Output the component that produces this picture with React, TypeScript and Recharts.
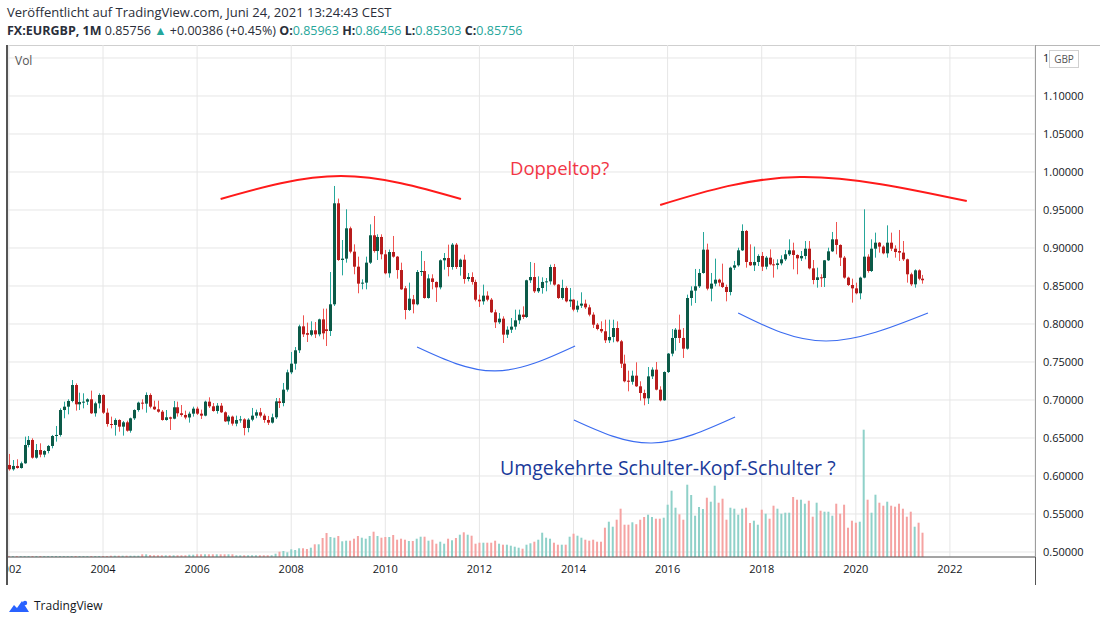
import { Bar, CartesianGrid, ComposedChart, Line, XAxis, YAxis } from "recharts"

// EURGBP monthly candles, Jan 2002 .. Jun 2021
const opens = [
  0.6145, 0.6088, 0.6132, 0.6105, 0.6167, 0.6408, 0.6474, 0.6241, 0.6342, 0.6281, 0.6329, 0.6395,
  0.6526, 0.6540, 0.6868, 0.6912, 0.6987, 0.7197, 0.6943, 0.6974, 0.6978, 0.7009, 0.6825, 0.6956,
  0.7066, 0.6833, 0.6684, 0.6671, 0.6737, 0.6649, 0.6706, 0.6596, 0.6759, 0.6868, 0.6965, 0.6952,
  0.7066, 0.6912, 0.6877, 0.6846, 0.6737, 0.6772, 0.6754, 0.6904, 0.6825, 0.6803, 0.6770, 0.6820,
  0.6886, 0.6820, 0.6794, 0.6978, 0.6917, 0.6855, 0.6925, 0.6838, 0.6719, 0.6781, 0.6689, 0.6737,
  0.6745, 0.6632, 0.6741, 0.6794, 0.6838, 0.6794, 0.6737, 0.6702, 0.6772, 0.6982, 0.6960, 0.7136,
  0.7364, 0.7478, 0.7654, 0.7969, 0.7880, 0.7858, 0.7917, 0.7864, 0.8061, 0.7930, 0.7908, 0.8259,
  0.9588, 0.8842, 0.8860, 0.9259, 0.8952, 0.8754, 0.8531, 0.8544, 0.8807, 0.9167, 0.8960, 0.9145,
  0.8917, 0.8667, 0.8947, 0.8886, 0.8710, 0.8470, 0.8184, 0.8325, 0.8259, 0.8684, 0.8697, 0.8342,
  0.8600, 0.8553, 0.8482, 0.8838, 0.8868, 0.8750, 0.9044, 0.8750, 0.8846, 0.8592, 0.8618, 0.8553,
  0.8320, 0.8298, 0.8373, 0.8320, 0.8154, 0.8022, 0.8070, 0.7860, 0.7925, 0.7965, 0.8048, 0.8123,
  0.8092, 0.8575, 0.8618, 0.8430, 0.8474, 0.8553, 0.8561, 0.8750, 0.8518, 0.8342, 0.8474, 0.8298,
  0.8320, 0.8189, 0.8241, 0.8268, 0.8219, 0.8123, 0.7991, 0.7934, 0.7904, 0.7785, 0.7829, 0.7947,
  0.7772, 0.7478, 0.7254, 0.7240, 0.7320, 0.7180, 0.7092, 0.7022, 0.7311, 0.7399, 0.7136, 0.6996,
  0.7368, 0.7610, 0.7816, 0.7925, 0.7816, 0.7675, 0.8342, 0.8439, 0.8496, 0.8671, 0.8978, 0.8465,
  0.8531, 0.8583, 0.8544, 0.8487, 0.8421, 0.8741, 0.8772, 0.8969, 0.9224, 0.8816, 0.8772, 0.8816,
  0.8895, 0.8754, 0.8873, 0.8785, 0.8776, 0.8798, 0.8851, 0.8917, 0.8969, 0.8908, 0.8864, 0.8895,
  0.8991, 0.8732, 0.8579, 0.8614, 0.8605, 0.8838, 0.8956, 0.9114, 0.9040, 0.8873, 0.8610, 0.8513,
  0.8469, 0.8404, 0.8610, 0.8886, 0.8697, 0.8991, 0.9070, 0.9018, 0.8930, 0.9070, 0.8991, 0.8960,
  0.8939, 0.8851, 0.8654, 0.8522, 0.8706, 0.85963,
]

const highs = [
  0.6290, 0.6210, 0.6220, 0.6189, 0.6518, 0.6526, 0.6496, 0.6421, 0.6430, 0.6340, 0.6408, 0.6540,
  0.6658, 0.6890, 0.6978, 0.7009, 0.7263, 0.7219, 0.7096, 0.7088, 0.7022, 0.7123, 0.6978, 0.7088,
  0.7075, 0.6890, 0.6781, 0.6759, 0.6746, 0.6724, 0.6728, 0.6768, 0.6877, 0.6978, 0.7009, 0.7100,
  0.7088, 0.6991, 0.6991, 0.6868, 0.6868, 0.6781, 0.6987, 0.6978, 0.6934, 0.6860, 0.6846, 0.6912,
  0.6912, 0.6873, 0.6991, 0.7035, 0.6960, 0.6960, 0.6960, 0.6850, 0.6800, 0.6794, 0.6794, 0.6790,
  0.6760, 0.6760, 0.6895, 0.6873, 0.6895, 0.6820, 0.6790, 0.6820, 0.7026, 0.7026, 0.7224, 0.7399,
  0.7632, 0.7697, 0.7991, 0.8114, 0.8018, 0.8035, 0.8026, 0.8070, 0.8202, 0.8202, 0.8684, 0.9816,
  0.9650, 0.9105, 0.9509, 0.9281, 0.9048, 0.8886, 0.8588, 0.8886, 0.9311, 0.9421, 0.9180, 0.9180,
  0.8974, 0.8980, 0.9158, 0.8895, 0.8807, 0.8500, 0.8544, 0.8382, 0.8710, 0.8960, 0.8829, 0.8654,
  0.8654, 0.8560, 0.8850, 0.8934, 0.9044, 0.9066, 0.9066, 0.8860, 0.8912, 0.8671, 0.8680, 0.8583,
  0.8386, 0.8518, 0.8430, 0.8342, 0.8189, 0.8145, 0.8101, 0.7969, 0.8079, 0.8189, 0.8189, 0.8232,
  0.8583, 0.8816, 0.8803, 0.8627, 0.8614, 0.8605, 0.8781, 0.8790, 0.8526, 0.8583, 0.8496, 0.8474,
  0.8329, 0.8307, 0.8417, 0.8320, 0.8254, 0.8154, 0.8013, 0.8035, 0.8057, 0.8057, 0.8057, 0.8035,
  0.7790, 0.7596, 0.7386, 0.7386, 0.7496, 0.7246, 0.7136, 0.7434, 0.7430, 0.7500, 0.7180, 0.7377,
  0.7618, 0.7934, 0.7947, 0.8123, 0.7947, 0.8386, 0.8496, 0.8724, 0.8724, 0.9210, 0.9057, 0.8671,
  0.8860, 0.8596, 0.8794, 0.8518, 0.8754, 0.8830, 0.9004, 0.9311, 0.9237, 0.9048, 0.9018, 0.8917,
  0.8947, 0.8895, 0.8982, 0.8851, 0.8851, 0.8904, 0.8974, 0.9114, 0.9070, 0.8917, 0.8960, 0.9092,
  0.9092, 0.8842, 0.8741, 0.8654, 0.8842, 0.9004, 0.9211, 0.9342, 0.9048, 0.8895, 0.8623, 0.8596,
  0.8544, 0.8623, 0.9509, 0.8917, 0.9114, 0.9202, 0.9079, 0.9035, 0.9298, 0.9202, 0.9035, 0.9237,
  0.9092, 0.8860, 0.8675, 0.8719, 0.8719, 0.86456,
]

const lows = [
  0.6070, 0.6070, 0.6097, 0.6097, 0.6160, 0.6377, 0.6228, 0.6228, 0.6246, 0.6246, 0.6298, 0.6364,
  0.6452, 0.6518, 0.6759, 0.6811, 0.6969, 0.6860, 0.6868, 0.6890, 0.6934, 0.6816, 0.6781, 0.6890,
  0.6816, 0.6649, 0.6627, 0.6531, 0.6583, 0.6531, 0.6583, 0.6570, 0.6737, 0.6846, 0.6877, 0.6833,
  0.6890, 0.6868, 0.6833, 0.6728, 0.6728, 0.6605, 0.6746, 0.6781, 0.6781, 0.6746, 0.6702, 0.6781,
  0.6803, 0.6750, 0.6785, 0.6895, 0.6846, 0.6820, 0.6829, 0.6710, 0.6675, 0.6662, 0.6654, 0.6700,
  0.6535, 0.6575, 0.6720, 0.6760, 0.6770, 0.6700, 0.6671, 0.6690, 0.6750, 0.6895, 0.6917, 0.7110,
  0.7340, 0.7399, 0.7618, 0.7829, 0.7763, 0.7838, 0.7816, 0.7838, 0.7798, 0.7710, 0.7842, 0.8237,
  0.8830, 0.8640, 0.8807, 0.8930, 0.8654, 0.8404, 0.8456, 0.8456, 0.8790, 0.8939, 0.8842, 0.8851,
  0.8654, 0.8610, 0.8873, 0.8596, 0.8448, 0.8061, 0.8171, 0.8140, 0.8246, 0.8632, 0.8333, 0.8333,
  0.8456, 0.8290, 0.8456, 0.8715, 0.8627, 0.8715, 0.8724, 0.8636, 0.8530, 0.8561, 0.8518, 0.8298,
  0.8224, 0.8254, 0.8298, 0.8145, 0.7947, 0.8000, 0.7750, 0.7816, 0.7882, 0.7925, 0.8000, 0.8066,
  0.8079, 0.8540, 0.8408, 0.8408, 0.8399, 0.8430, 0.8518, 0.8504, 0.8329, 0.8320, 0.8285, 0.8224,
  0.8167, 0.8154, 0.8211, 0.8197, 0.8101, 0.7947, 0.7917, 0.7882, 0.7750, 0.7750, 0.7759, 0.7759,
  0.7421, 0.7232, 0.7114, 0.7202, 0.7171, 0.6991, 0.6930, 0.6947, 0.7276, 0.7127, 0.6982, 0.6990,
  0.7355, 0.7575, 0.7649, 0.7750, 0.7553, 0.7662, 0.8241, 0.8276, 0.8474, 0.8662, 0.8443, 0.8298,
  0.8496, 0.8496, 0.8474, 0.8298, 0.8377, 0.8711, 0.8754, 0.8960, 0.8741, 0.8763, 0.8697, 0.8763,
  0.8697, 0.8719, 0.8772, 0.8610, 0.8719, 0.8772, 0.8829, 0.8895, 0.8719, 0.8654, 0.8829, 0.8851,
  0.8719, 0.8522, 0.8478, 0.8487, 0.8487, 0.8829, 0.8947, 0.8917, 0.8763, 0.8596, 0.8500, 0.8281,
  0.8390, 0.8325, 0.8601, 0.8675, 0.8684, 0.8873, 0.8939, 0.8917, 0.8873, 0.8960, 0.8873, 0.8829,
  0.8829, 0.8544, 0.8500, 0.8478, 0.8575, 0.85303,
]

const closes = [
  0.6088, 0.6132, 0.6105, 0.6167, 0.6408, 0.6474, 0.6241, 0.6342, 0.6281, 0.6329, 0.6395, 0.6526,
  0.6540, 0.6868, 0.6912, 0.6987, 0.7197, 0.6943, 0.6974, 0.6978, 0.7009, 0.6825, 0.6956, 0.7066,
  0.6833, 0.6684, 0.6671, 0.6737, 0.6649, 0.6706, 0.6596, 0.6759, 0.6868, 0.6965, 0.6952, 0.7066,
  0.6912, 0.6877, 0.6846, 0.6737, 0.6772, 0.6754, 0.6904, 0.6825, 0.6803, 0.6770, 0.6820, 0.6886,
  0.6820, 0.6794, 0.6978, 0.6917, 0.6855, 0.6925, 0.6838, 0.6719, 0.6781, 0.6689, 0.6737, 0.6745,
  0.6632, 0.6741, 0.6794, 0.6838, 0.6794, 0.6737, 0.6702, 0.6772, 0.6982, 0.6960, 0.7136, 0.7364,
  0.7478, 0.7654, 0.7969, 0.7864, 0.7858, 0.7917, 0.7864, 0.8061, 0.7877, 0.7908, 0.8259, 0.9588,
  0.8842, 0.8860, 0.9259, 0.8952, 0.8754, 0.8531, 0.8544, 0.8807, 0.9167, 0.8960, 0.9145, 0.8917,
  0.8667, 0.8947, 0.8886, 0.8710, 0.8456, 0.8184, 0.8333, 0.8259, 0.8684, 0.8697, 0.8342, 0.8600,
  0.8553, 0.8482, 0.8838, 0.8868, 0.8750, 0.9044, 0.8750, 0.8846, 0.8592, 0.8618, 0.8553, 0.8320,
  0.8298, 0.8373, 0.8320, 0.8154, 0.8022, 0.8070, 0.7860, 0.7925, 0.7965, 0.8048, 0.8123, 0.8092,
  0.8575, 0.8618, 0.8430, 0.8474, 0.8553, 0.8561, 0.8750, 0.8518, 0.8342, 0.8474, 0.8298, 0.8320,
  0.8189, 0.8241, 0.8268, 0.8219, 0.8123, 0.7991, 0.7934, 0.7904, 0.7785, 0.7829, 0.7947, 0.7772,
  0.7478, 0.7246, 0.7240, 0.7320, 0.7180, 0.7092, 0.7022, 0.7311, 0.7399, 0.7136, 0.6996, 0.7368,
  0.7610, 0.7816, 0.7925, 0.7816, 0.7675, 0.8342, 0.8439, 0.8496, 0.8671, 0.8978, 0.8465, 0.8531,
  0.8583, 0.8544, 0.8487, 0.8421, 0.8741, 0.8772, 0.8969, 0.9224, 0.8816, 0.8772, 0.8816, 0.8895,
  0.8754, 0.8873, 0.8785, 0.8776, 0.8798, 0.8851, 0.8917, 0.8969, 0.8908, 0.8864, 0.8895, 0.8991,
  0.8732, 0.8579, 0.8614, 0.8605, 0.8838, 0.8956, 0.9114, 0.9040, 0.8873, 0.8610, 0.8513, 0.8469,
  0.8404, 0.8610, 0.8886, 0.8697, 0.8991, 0.9070, 0.9018, 0.8930, 0.9070, 0.8991, 0.8947, 0.8939,
  0.8851, 0.8654, 0.8522, 0.8706, 0.8596, 0.85756,
]

// relative volume (chart units)
const volumes = [
  1, 1, 1, 1, 1, 1, 1, 1, 1, 1, 1, 1,
  1, 1, 1, 1, 1, 1, 1, 1, 1, 1, 1, 1,
  1, 1, 1.3, 1.3, 1.3, 1.3, 1.3, 1.3, 1.3, 1.3, 2.7, 2.7,
  2, 1.7, 1.7, 1.7, 1.7, 1.7, 1.7, 1.7, 1.7, 1.7, 2.3, 2.3,
  2.7, 2.7, 2.7, 2.7, 2.7, 2.7, 2.7, 2.7, 2.7, 2.7, 1.7, 1.7,
  1.7, 1.7, 1.7, 1.7, 1.7, 1.7, 1.7, 1.7, 3.3, 5.3, 6, 4.7,
  7.7, 7, 8.7, 8.7, 8, 9.3, 12.7, 12.7, 19, 24, 20, 19.3,
  21, 15.7, 16.3, 16.3, 18.3, 21, 19.3, 18.3, 21, 25.3, 21, 19.3,
  20, 20, 22, 17.3, 18.3, 17.3, 16, 16, 18.3, 20.3, 20.3, 16.3,
  17.3, 13.3, 15.3, 13.3, 18.3, 16.7, 19, 22.3, 24.7, 22.3, 21.3, 13.3,
  14.3, 14.3, 14.3, 14.3, 16.3, 13.3, 12.3, 12.3, 11.3, 10.3, 9.3, 8.3,
  12.3, 13.7, 15.3, 17.3, 24.3, 19.3, 18.3, 14.3, 12.3, 12.3, 12.3, 20.3,
  23.3, 21.3, 19.3, 17.3, 16.3, 17.3, 15.3, 15.3, 29.3, 35.3, 30.3, 37.3,
  48.3, 32.3, 32.3, 34.7, 32.8, 37.3, 40, 42.3, 40, 38.3, 38.3, 39.3,
  52.3, 66.3, 49.3, 42.7, 37.3, 72.3, 62, 41.3, 50, 48, 59.3, 55.3,
  71.3, 54.3, 58.3, 37.3, 49.3, 48.3, 42.3, 48.3, 49.3, 34, 36.3, 32.3,
  47.3, 43.3, 38.3, 51.3, 48.3, 43.3, 44.3, 44.3, 60, 57.3, 57.3, 53.3,
  56.3, 40.3, 54.3, 46.3, 45.3, 45.3, 41.3, 53.3, 43.3, 52.3, 29.3, 36.3,
  34.3, 35.3, 127.3, 57.3, 44.3, 62.3, 54.3, 51.3, 55.3, 51.3, 50.3, 53.3,
  48.3, 40.3, 45.3, 30.3, 34.3, 24.3,
]

// month index 0 = Jan 2002
const yearTicks = [0, 24, 48, 72, 96, 120, 144, 168, 192, 216, 240]
const yearLabels = ["2002", "2004", "2006", "2008", "2010", "2012", "2014", "2016", "2018", "2020", "2022"]
const priceTicks = [0.5, 0.55, 0.6, 0.65, 0.7, 0.75, 0.8, 0.85, 0.9, 0.95, 1.0, 1.05, 1.1, 1.15]

// hand-drawn annotation arcs (month index, price)
const topArcLeft = [{ t: 54, p: 0.9645 }, { t: 84.7, p: 0.9947 }, { t: 115.3, p: 0.9645 }]
const topArcRight = [{ t: 166.1, p: 0.9566 }, { t: 201.8, p: 0.9934 }, { t: 244.3, p: 0.9618 }]
const leftShoulder = [{ t: 104.1, p: 0.7697 }, { t: 124, p: 0.7382 }, { t: 144.4, p: 0.7711 }]
const head = [{ t: 144.1, p: 0.6737 }, { t: 164, p: 0.6434 }, { t: 185.2, p: 0.6776 }]
const rightShoulder = [{ t: 186, p: 0.8145 }, { t: 208.4, p: 0.7776 }, { t: 234.4, p: 0.8145 }]

const candles = closes.map((c, i) => ({
  t: i,
  range: [lows[i], highs[i]],
  o: opens[i],
  h: highs[i],
  l: lows[i],
  c,
  vol: volumes[i],
  up: c >= opens[i],
}))

const font = "'Open Sans', 'Noto Sans', sans-serif"
const teal = "#26a69a"

function Candle(props: any) {
  const { x, y, width, height, payload } = props
  if (!payload) return null
  const { o, h, l, c, up } = payload
  const top = Math.min(y, y + height)
  const span = Math.abs(height)
  const k = h > l ? span / (h - l) : 0
  const py = (v: number) => top + (h - v) * k
  const cx = Math.round(x + width / 2) + 0.5
  const bTop = py(Math.max(o, c))
  const bH = Math.max(1, py(Math.min(o, c)) - bTop)
  return (
    <g>
      <line x1={cx} x2={cx} y1={top} y2={top + span} stroke={up ? "#26a69a" : "#ef5350"} strokeWidth={1} />
      <rect x={cx - 1.5} y={bTop} width={3} height={bH} fill={up ? "#0c5a48" : "#b71c1c"} />
    </g>
  )
}

function VolBar(props: any) {
  const { x, y, width, height, payload } = props
  if (!payload || !height) return null
  return <rect x={x} y={y} width={width} height={height} fill={payload.up ? "#8fd1c9" : "#f5a3a2"} />
}

function TVLogo() {
  return (
    <svg width={22} height={14} viewBox="0 0 22 14">
      <path d="M1 13 L6 6 L9 9 L14 2 L21 13 Z" fill="#2962ff" />
      <circle cx="17" cy="4" r="2.2" fill="#2962ff" />
    </svg>
  )
}

// the top price label sits under the currency badge, only its first digit shows
const priceLabel = (v: number) => (v > 1.12 ? "1" : v.toFixed(5))

export default function App() {
  return (
    <div style={{ position: "relative", width: 1100, height: 623, overflow: "hidden", background: "#fff", fontFamily: font }}>
      <style>{"body{margin:0;overflow:hidden}"}</style>

      <div style={{ position: "absolute", left: 7, top: 4, fontSize: 13, lineHeight: "17px", color: "#2a2e39", whiteSpace: "nowrap" }}>
        Veröffentlicht auf TradingView.com, Juni 24, 2021 13:24:43 CEST
      </div>
      <div style={{ position: "absolute", left: 7, top: 22, fontSize: 12.5, lineHeight: "17px", color: "#2a2e39", whiteSpace: "nowrap" }}>
        <b>FX:EURGBP, 1M</b> 0.85756 <span style={{ color: teal }}>▲</span> +0.00386 (+0.45%) <b>O:</b>
        <span style={{ color: teal }}>0.85963</span> <b>H:</b>
        <span style={{ color: teal }}>0.86456</span> <b>L:</b>
        <span style={{ color: teal }}>0.85303</span> <b>C:</b>
        <span style={{ color: teal }}>0.85756</span>
      </div>

      {/* pane frame */}
      <div style={{ position: "absolute", left: 7, top: 45, width: 1093, height: 0, borderTop: "1px solid #b8b8b8" }} />
      <div style={{ position: "absolute", left: 6, top: 45, width: 2, height: 540, background: "#555" }} />
      <div style={{ position: "absolute", left: 1035, top: 45, width: 1, height: 540, background: "#555" }} />

      <div style={{ position: "absolute", left: 8, top: 45 }}>
        <ComposedChart width={1092} height={540} data={candles} margin={{ top: 0, right: 0, bottom: 0, left: 0 }}>
          <CartesianGrid stroke="#e6e6e6" />
          <XAxis
            dataKey="t"
            type="number"
            domain={[-0.23, 261.7]}
            allowDataOverflow
            ticks={yearTicks}
            interval={0}
            height={28}
            tickLine={false}
            axisLine={{ stroke: "#555" }}
            tick={{ fontSize: 11, fill: "#131722" }}
            tickFormatter={(v) => yearLabels[yearTicks.indexOf(v)]}
          />
          <XAxis xAxisId="v" dataKey="t" type="number" domain={[-0.23, 261.7]} allowDataOverflow hide />
          <YAxis
            orientation="right"
            domain={[0.4934, 1.1671]}
            allowDataOverflow
            ticks={priceTicks}
            interval={0}
            width={65}
            tickLine={false}
            axisLine={false}
            tick={{ fontSize: 11, fill: "#131722" }}
            tickFormatter={priceLabel}
          />
          <YAxis yAxisId="v" domain={[0, 512]} hide />
          <Bar dataKey="vol" xAxisId="v" yAxisId="v" barSize={2} shape={VolBar} isAnimationActive={false} />
          <Bar dataKey="range" barSize={3} shape={Candle} isAnimationActive={false} />
          <Line data={topArcLeft} dataKey="p" type="natural" stroke="#ff1a1a" strokeWidth={2} dot={false} isAnimationActive={false} />
          <Line data={topArcRight} dataKey="p" type="natural" stroke="#ff1a1a" strokeWidth={2} dot={false} isAnimationActive={false} />
          <Line data={leftShoulder} dataKey="p" type="natural" stroke="#3b6cf0" strokeWidth={1.2} dot={false} isAnimationActive={false} />
          <Line data={head} dataKey="p" type="natural" stroke="#3b6cf0" strokeWidth={1.2} dot={false} isAnimationActive={false} />
          <Line data={rightShoulder} dataKey="p" type="natural" stroke="#3b6cf0" strokeWidth={1.2} dot={false} isAnimationActive={false} />
        </ComposedChart>
      </div>

      <div style={{ position: "absolute", left: 15, top: 52, fontSize: 12, color: "#555" }}>Vol</div>
      <div style={{ position: "absolute", left: 1049, top: 50, width: 28, height: 16, border: "1px solid #d0d0d0", background: "#fff", fontSize: 10, lineHeight: "16px", textAlign: "center", color: "#555" }}>
        GBP
      </div>

      <div style={{ position: "absolute", left: 510, top: 155, fontSize: 18.5, color: "#f23645", whiteSpace: "nowrap" }}>Doppeltop?</div>
      <div style={{ position: "absolute", left: 500, top: 454, fontSize: 19.5, fontWeight: 500, color: "#1a3a9a", whiteSpace: "nowrap" }}>
        Umgekehrte Schulter-Kopf-Schulter ?
      </div>

      <div style={{ position: "absolute", left: 8, top: 597, display: "flex", alignItems: "center", gap: 4, fontSize: 12, color: "#131722" }}>
        <TVLogo />
        <span>TradingView</span>
      </div>
    </div>
  )
}
